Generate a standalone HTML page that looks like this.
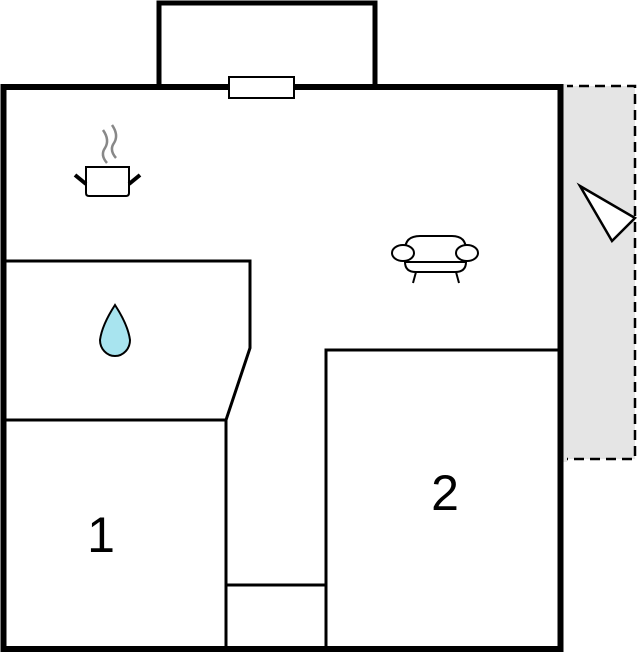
<!DOCTYPE html>
<html><head><style>body{margin:0;background:#fff}svg{display:block}</style></head><body>
<svg width="644" height="652" viewBox="0 0 644 652" xmlns="http://www.w3.org/2000/svg">
<rect x="563" y="86" width="72" height="373" fill="#e5e5e5" stroke="#000" stroke-width="2.5" stroke-dasharray="10,6"/>
<rect x="563" y="84" width="4" height="378" fill="#e5e5e5"/>
<g fill="none" stroke="#000">
<rect x="159" y="3" width="216" height="84" stroke-width="5"/>
<rect x="3.5" y="87" width="557" height="562" stroke-width="6"/>
<g stroke-width="3">
<polyline points="4,261 250,261 250,348 226,420 4,420"/>
<line x1="226" y1="420" x2="226" y2="649"/>
<line x1="226" y1="585" x2="326" y2="585"/>
<polyline points="326,649 326,350 560,350"/>
</g>
</g>
<rect x="229" y="77" width="65" height="21" fill="#fff" stroke="#000" stroke-width="2"/>
<polygon points="580,186 612,241 635,218" fill="#fff" stroke="#000" stroke-width="2.5"/>
<!-- pot -->
<g stroke="#000" fill="none">
<path d="M86,167 H129 V193 Q129,196 126,196 H89 Q86,196 86,193 Z" fill="#fff" stroke-width="2"/>
<line x1="75" y1="175" x2="86" y2="184" stroke-width="4"/>
<line x1="140" y1="175" x2="129" y2="184" stroke-width="4"/>
<path d="M103,130 Q110,140 105,148 Q100,155 107,163" stroke="#888" stroke-width="2.5"/>
<path d="M112,125 Q119,135 114,143 Q109,150 116,158" stroke="#888" stroke-width="2.5"/>
</g>
<!-- sofa -->
<g stroke="#000" stroke-width="2" fill="#fff">
<path d="M405,250 Q405,236 420,236 H452 Q466,236 466,250 V262 H405 Z"/>
<path d="M405,262 H466 Q466,272 455,272 H416 Q405,272 405,262 Z"/>
<ellipse cx="403" cy="253" rx="11" ry="8"/>
<ellipse cx="467" cy="253" rx="11" ry="8"/>
<line x1="416" y1="272" x2="413" y2="283"/>
<line x1="456" y1="272" x2="459" y2="283"/>
</g>
<!-- drop -->
<path d="M115,305 Q128,325 130,340 A15,16 0 0 1 100,340 Q102,325 115,305 Z" fill="#a8e4ef" stroke="#000" stroke-width="2"/>
<text x="101" y="552" font-family="Liberation Sans, sans-serif" font-size="50" text-anchor="middle">1</text>
<text x="445" y="510" font-family="Liberation Sans, sans-serif" font-size="50" text-anchor="middle">2</text>
</svg>
</body></html>
